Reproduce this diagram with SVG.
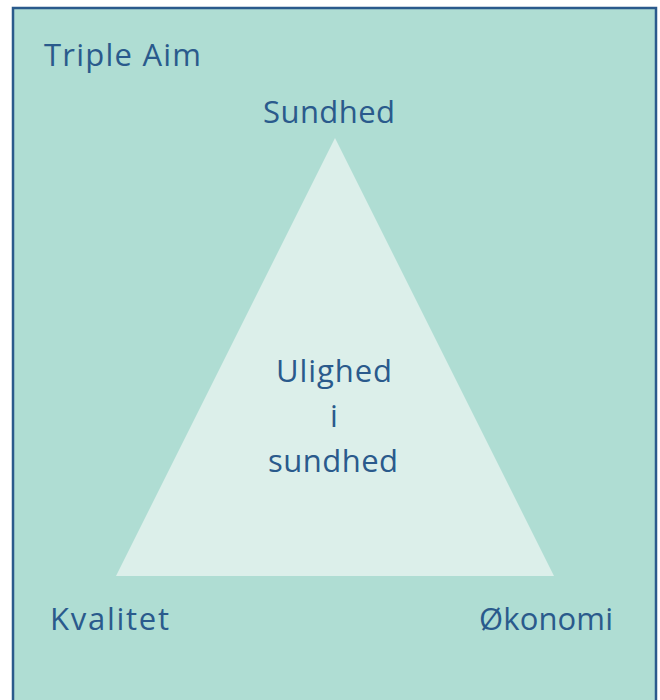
<svg xmlns="http://www.w3.org/2000/svg" width="660" height="700" viewBox="0 0 660 700">
<style>
.t{font-family:"Open Sans","DejaVu Sans",sans-serif;font-size:31px;fill:#2a5a8c}
</style>
<rect width="660" height="700" fill="#ffffff"/>
<g id="frame"><rect x="13" y="8" width="643" height="710" fill="#afddd3" stroke="#2a5a8c" stroke-width="2.5"/></g>
<g id="title"><text class="t" x="44" y="66" textLength="157" lengthAdjust="spacing">Triple Aim</text></g>
<g id="triangle"><polygon points="335,138 116,576 554,576" fill="#dcefea"/>
<text class="t" x="276" y="382" textLength="116" lengthAdjust="spacing">Ulighed</text>
<text class="t" x="334" y="427" text-anchor="middle">i</text>
<text class="t" x="268" y="472" textLength="130" lengthAdjust="spacing">sundhed</text></g>
<g id="sundhed"><text class="t" x="263" y="123" textLength="132" lengthAdjust="spacing">Sundhed</text></g>
<g id="kvalitet"><text class="t" x="50" y="630" textLength="119" lengthAdjust="spacing">Kvalitet</text></g>
<g id="okonomi"><text class="t" x="479" y="630" textLength="134" lengthAdjust="spacing">Økonomi</text></g>
<g id="connectors"></g>
</svg>
